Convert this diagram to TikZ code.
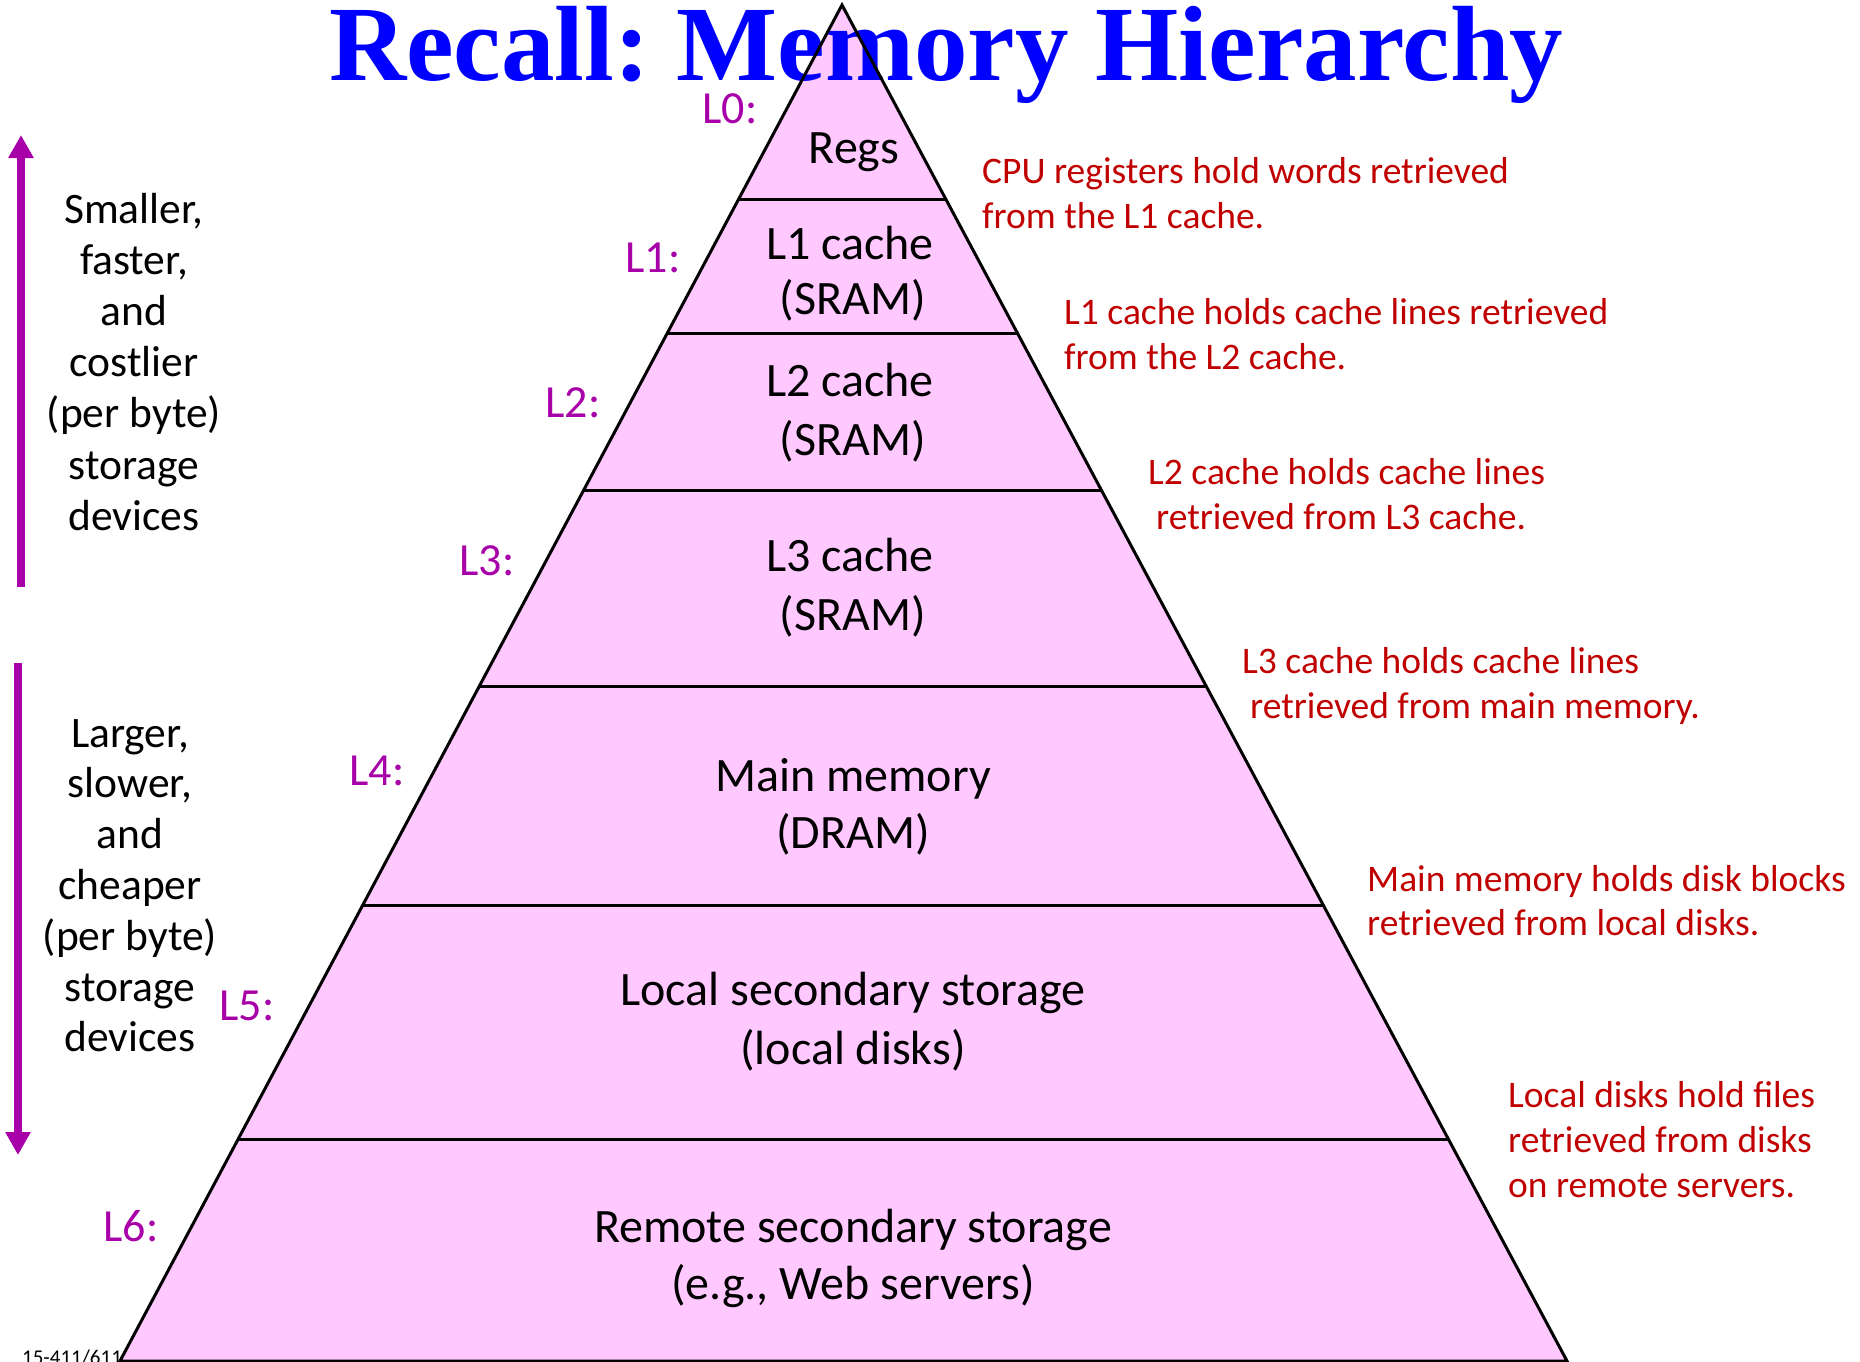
\documentclass[tikz,border=0pt]{standalone}
\usepackage{fontspec}
\setmainfont{Carlito}
\newfontfamily\titlefont{Liberation Serif}
\usetikzlibrary{arrows.meta}
\definecolor{pinkfill}{HTML}{FFC8FF}
\definecolor{lvl}{HTML}{A800A8}
\definecolor{note}{HTML}{C00000}
\definecolor{ttl}{HTML}{0000FF}
\tikzset{
  body/.style={inner sep=0pt, anchor=base, font=\fontsize{48}{58}\selectfont},
  lvllabel/.style={inner sep=0pt, anchor=base, text=lvl, font=\fontsize{46}{56}\selectfont},
  notetext/.style={inner sep=0pt, anchor=base west, text=note, font=\fontsize{37.5}{45}\selectfont},
  side/.style={inner sep=0pt, anchor=base, font=\fontsize{43.5}{51}\selectfont},
  tier/.style={line width=3pt},
  bigarrow/.style={draw=lvl, line width=8pt, -{Triangle[length=23pt,width=24pt]}}
}
\begin{document}
\frenchspacing
\begin{tikzpicture}[x=1pt,y=-1pt]
\useasboundingbox (0,0) rectangle (1860,1361);
\clip (0,0) rectangle (1860,1361);
% footer
\node[inner sep=0pt, anchor=base west, font=\fontsize{21}{25}\selectfont] (foot) at (22,1364) {15-411/611};
% pyramid
\coordinate (apex) at (842,5);
\coordinate (bl) at (120,1361);
\coordinate (br) at (1567,1361);
\fill[pinkfill] (apex) -- (bl) -- (br) -- cycle;
% title
\node[inner sep=0pt, anchor=base west, text=ttl, font=\titlefont\bfseries\fontsize{107}{120}\selectfont] (title) at (329,80) {Recall: Memory Hierarchy};
\draw[tier, line join=miter] (apex) -- (bl) -- (br) -- cycle;
\foreach \y in {199,333,490,686,905,1139} {
  \draw[tier] ({842-0.53245*(\y-5)},\y) -- ({842+0.53466*(\y-5)},\y);
}
% level contents
\node[body] (regs) at (854,163) {Regs};
\node[body] (l1a) at (850,259) {L1 cache};
\node[body] (l1b) at (853,314) {(SRAM)};
\node[body] (l2a) at (850,396) {L2 cache};
\node[body] (l2b) at (853,455) {(SRAM)};
\node[body] (l3a) at (850,571) {L3 cache};
\node[body] (l3b) at (853,630) {(SRAM)};
\node[body] (l4a) at (853,791) {Main memory};
\node[body] (l4b) at (853,848) {(DRAM)};
\node[body] (l5a) at (853,1005) {Local secondary storage};
\node[body] (l5b) at (853,1064) {(local disks)};
\node[body] (l6a) at (853,1242) {Remote secondary storage};
\node[body] (l6b) at (853,1299) {(e.g., Web servers)};
% level labels
\node[lvllabel] (L0) at (730,123) {L0:};
\node[lvllabel] (L1) at (653,272) {L1:};
\node[lvllabel] (L2) at (573,417) {L2:};
\node[lvllabel] (L3) at (487,575) {L3:};
\node[lvllabel] (L4) at (377,785) {L4:};
\node[lvllabel] (L5) at (247,1020) {L5:};
\node[lvllabel] (L6) at (131,1241) {L6:};
% notes
\node[notetext] (n1a) at (982,183) {CPU registers hold words retrieved};
\node[notetext] (n1b) at (982,228) {from the L1 cache.};
\node[notetext] (n2a) at (1064,324) {L1 cache holds cache lines retrieved};
\node[notetext] (n2b) at (1064,369) {from the L2 cache.};
\node[notetext] (n3a) at (1148,484) {L2 cache holds cache lines};
\node[notetext] (n3b) at (1156,529) {retrieved from L3 cache.};
\node[notetext] (n4a) at (1242,673) {L3 cache holds cache lines};
\node[notetext] (n4b) at (1250,718) {retrieved from main memory.};
\node[notetext] (n5a) at (1367,891) {Main memory holds disk blocks};
\node[notetext] (n5b) at (1367,935) {retrieved from local disks.};
\node[notetext] (n6a) at (1508,1107) {Local disks hold files};
\node[notetext] (n6b) at (1508,1152) {retrieved from disks};
\node[notetext] (n6c) at (1508,1197) {on remote servers.};
% side texts
\foreach \t [count=\i] in {{Smaller,},{faster,},and,costlier,(per byte),storage,devices} {
  \node[side] (up\i) at (134,{223+(\i-1)*51.2}) {\t};
}
\foreach \t [count=\i] in {{Larger,},{slower,},and,cheaper,(per byte),storage,devices} {
  \node[side] (dn\i) at (130,{747+(\i-1)*50.8}) {\t};
}
% arrows
\coordinate (upS) at (21,587);
\coordinate (upE) at (21,135);
\coordinate (dnS) at (18,663);
\coordinate (dnE) at (18,1155);
\draw[bigarrow] (upS) -- (upE);
\draw[bigarrow] (dnS) -- (dnE);
\end{tikzpicture}
\end{document}
